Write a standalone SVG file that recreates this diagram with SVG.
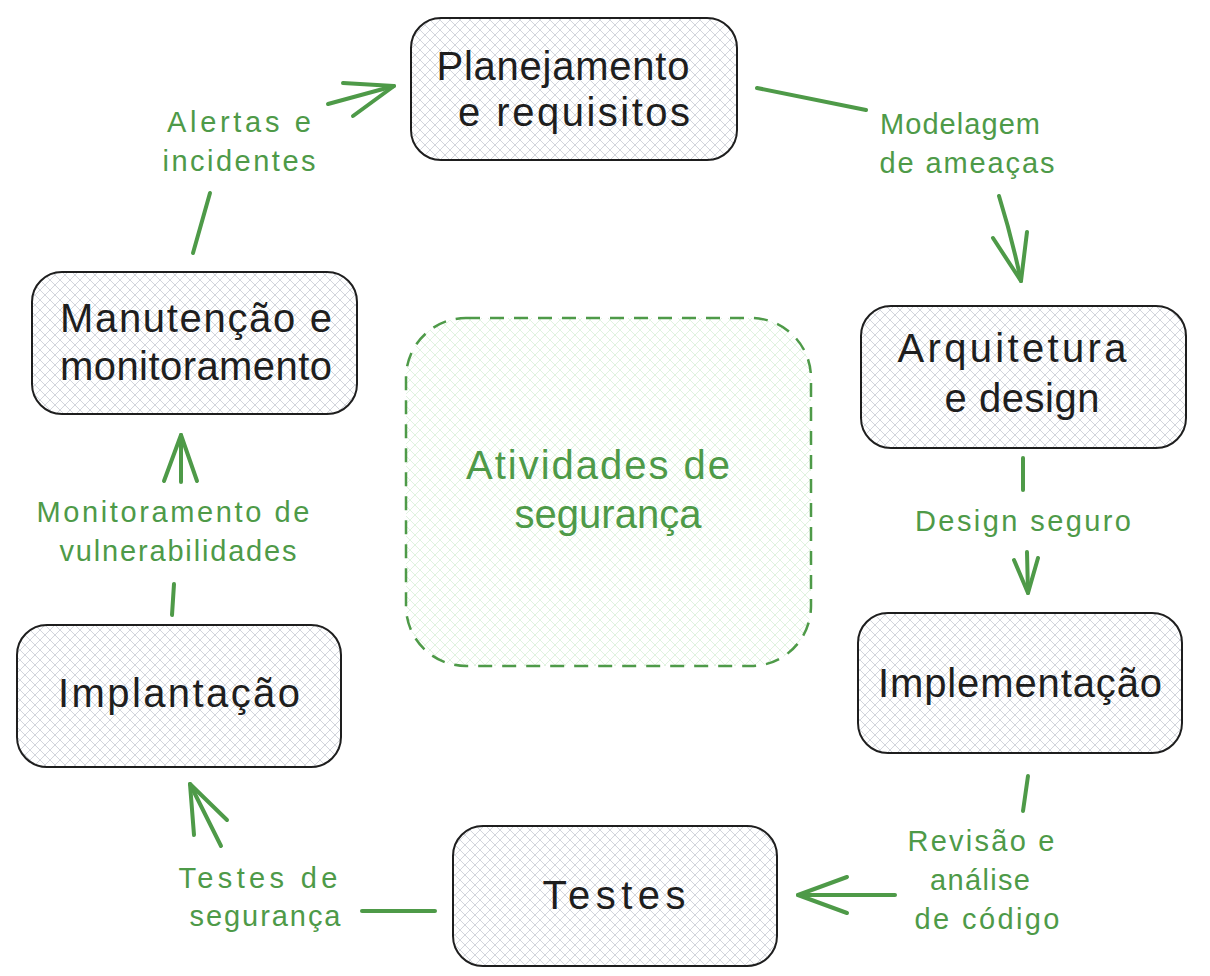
<svg xmlns="http://www.w3.org/2000/svg" width="1210" height="976" viewBox="0 0 1210 976">
<defs>
<pattern id="hatch" patternUnits="userSpaceOnUse" width="10" height="10">
<path d="M0 0 L10 10 M10 0 L0 10" stroke="#cdd0d8" stroke-width="0.9" fill="none"/>
</pattern>
<pattern id="hatchG" patternUnits="userSpaceOnUse" width="10" height="10">
<path d="M0 0 L10 10 M10 0 L0 10" stroke="#dcf2dc" stroke-width="0.9" fill="none"/>
</pattern>
<style>
.node rect{fill:url(#hatch);stroke:#1e1e1e;stroke-width:2}
.nt{font-family:"Liberation Sans",Arial,sans-serif;font-size:40px;fill:#1e1e1e;text-anchor:middle}
.lt{font-family:"Liberation Sans",Arial,sans-serif;font-size:29px;fill:#4e9a48;text-anchor:middle}
.ct{font-family:"Liberation Sans",Arial,sans-serif;font-size:40px;fill:#4e9a48;text-anchor:middle}
.conn path{fill:none;stroke:#4e9a48;stroke-width:4;stroke-linecap:round;stroke-linejoin:round}
</style>
</defs>
<rect width="1210" height="976" fill="#ffffff"/>

<g id="security">
<rect x="406" y="318" width="405" height="348" rx="60" fill="url(#hatchG)" stroke="#4e9a48" stroke-width="2.5" stroke-dasharray="14 10"/>
<text class="ct" x="598" y="479" textLength="264">Atividades de</text>
<text class="ct" x="608" y="528" textLength="187">segurança</text>
</g>

<g id="planejamento" class="node">
<rect x="411" y="18" width="326" height="142" rx="30"/>
<text class="nt" x="563" y="80" textLength="253">Planejamento</text>
<text class="nt" x="574" y="126" textLength="232">e requisitos</text>
</g>

<g id="arquitetura" class="node">
<rect x="861" y="306" width="325" height="142" rx="30"/>
<text class="nt" x="1012" y="362" textLength="229">Arquitetura</text>
<text class="nt" x="1022" y="412" textLength="155">e design</text>
</g>

<g id="implementacao" class="node">
<rect x="858" y="613" width="324" height="140" rx="30"/>
<text class="nt" x="1020" y="697" textLength="284">Implementação</text>
</g>

<g id="testes" class="node">
<rect x="453" y="826" width="324" height="140" rx="30"/>
<text class="nt" x="614" y="909" textLength="143">Testes</text>
</g>

<g id="implantacao" class="node">
<rect x="17" y="625" width="324" height="142" rx="30"/>
<text class="nt" x="179" y="707" textLength="242">Implantação</text>
</g>

<g id="manutencao" class="node">
<rect x="32" y="272" width="325" height="142" rx="30"/>
<text class="nt" x="196" y="332" textLength="272">Manutenção e</text>
<text class="nt" x="196" y="380" textLength="272">monitoramento</text>
</g>

<g id="connectors" class="conn">
<g id="c1">
<path d="M757 88 L866 110"/>
<path d="M999 196 Q1012 238 1021 281"/>
<path d="M993 238 L1021 281 L1027 232"/>
<text class="lt" x="960" y="134" textLength="160">Modelagem</text>
<text class="lt" x="967" y="173" textLength="175">de ameaças</text>
</g>
<g id="c2">
<path d="M1023 458 L1023 490"/>
<path d="M1027 552 L1028 593"/>
<path d="M1014 560 L1028 593 L1038 558"/>
<text class="lt" x="1023" y="531" textLength="216">Design seguro</text>
</g>
<g id="c3">
<path d="M1028 776 L1023 811"/>
<path d="M895 895 L798 895"/>
<path d="M847 877 L798 895 L847 913"/>
<text class="lt" x="981" y="851" textLength="147">Revisão e</text>
<text class="lt" x="980" y="890" textLength="100">análise</text>
<text class="lt" x="987" y="929" textLength="145">de código</text>
</g>
<g id="c4">
<path d="M435 911 L362 911"/>
<path d="M221 846 L190 784"/>
<path d="M194 835 L190 784 L227 820"/>
<text class="lt" x="258" y="888" textLength="159">Testes de</text>
<text class="lt" x="265" y="926" textLength="151">segurança</text>
</g>
<g id="c5">
<path d="M172 615 L174 584"/>
<path d="M181 482 L181 435"/>
<path d="M164 481 L181 435 L197 481"/>
<text class="lt" x="173" y="522" textLength="273">Monitoramento de</text>
<text class="lt" x="178" y="561" textLength="237">vulnerabilidades</text>
</g>
<g id="c6">
<path d="M193 253 L210 193"/>
<path d="M328 104 L394 86"/>
<path d="M343 83 L394 86 L353 116"/>
<text class="lt" x="239" y="132" textLength="144">Alertas e</text>
<text class="lt" x="239" y="171" textLength="153">incidentes</text>
</g>
</g>
</svg>
